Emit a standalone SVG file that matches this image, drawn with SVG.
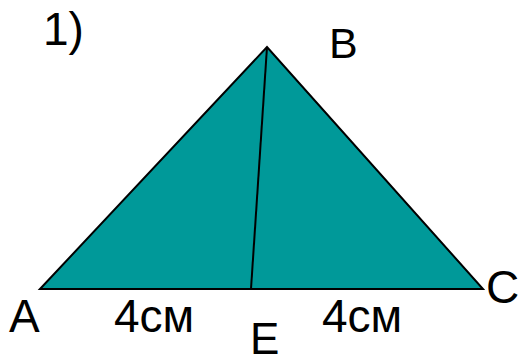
<svg xmlns="http://www.w3.org/2000/svg" width="531" height="364" viewBox="0 0 531 364">
<style>
.lbl{font-family:"Liberation Sans",Arial,sans-serif;font-size:46px;fill:#000}
.edge{stroke:#000;stroke-width:2;fill:none}
</style>
<rect width="531" height="364" fill="#fff"/>
<g id="triangle">
<polygon points="40,289 267,47 483,289" fill="#009999" stroke="#000" stroke-width="2" stroke-linejoin="miter"/>
</g>
<g id="connectors">
<line class="edge" x1="267" y1="47" x2="251" y2="289"/>
</g>
<g id="labels">
<text class="lbl" x="43" y="45">1)</text>
<text class="lbl" x="329" y="58" style="font-size:43px">B</text>
<text class="lbl" x="9" y="332">A</text>
<text class="lbl" x="486" y="303">C</text>
<text class="lbl" x="250" y="354" style="font-size:44px">E</text>
<text class="lbl" x="114" y="332">4см</text>
<text class="lbl" x="322" y="332">4см</text>
</g>
</svg>
